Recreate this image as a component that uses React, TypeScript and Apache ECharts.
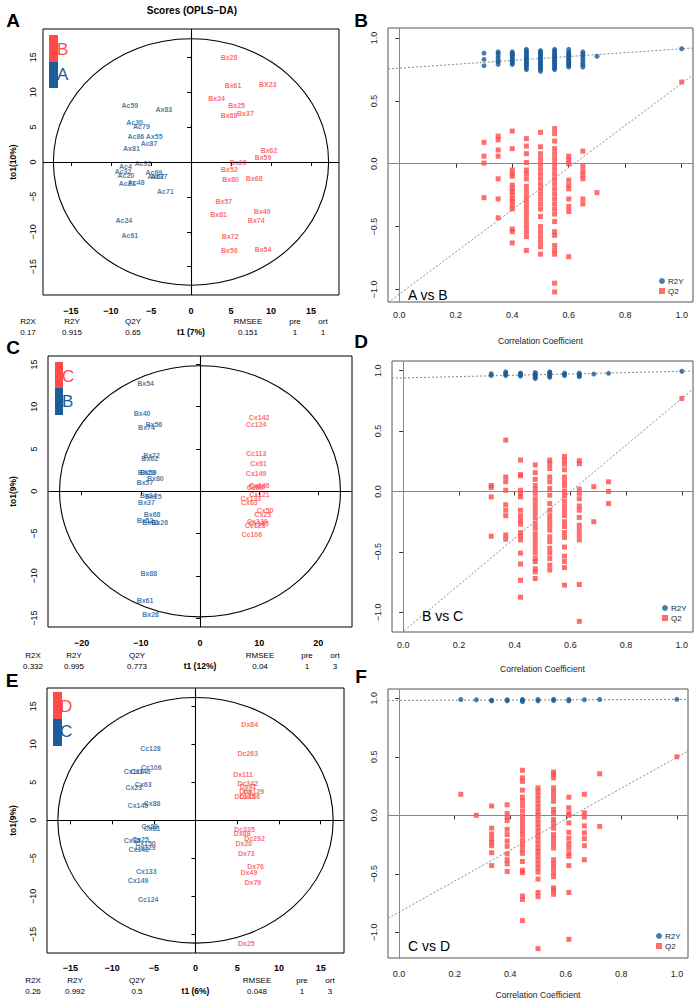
import React, { useEffect, useRef } from "react";
import * as echarts from "echarts";

const FONT = "'Liberation Sans', Arial, Helvetica, sans-serif";
const RED = "#FF4A4A";
const BLUE = "#1C5C99";
const MINUS = "\u2212";

// ---------------- tick labels ----------------
const ticks15 = [-15, -10, -5, 0, 5, 10, 15];
const ticks20 = [-20, -10, 0, 10, 20];
const corrTicksX = [0, 0.2, 0.4, 0.6, 0.8, 1.0];
const corrTicksY = [-1, -0.5, 0, 0.5, 1];

// ---------------- model statistics ----------------
const statNames = ["R2X", "R2Y", "Q2Y", "RMSEE", "pre", "ort"];
const statsA = ["0.17", "0.915", "0.65", "0.151", "1", "1"];
const statsC = ["0.332", "0.995", "0.773", "0.04", "1", "3"];
const statsE = ["0.26", "0.992", "0.5", "0.048", "1", "3"];

// ---------------- panel A scores: [sample, t1, to1] ----------------
const A_groupB: [string, number, number][] = [
  ["Bx28", 4.75, 14.9], ["Bx61", 5.25, 10.9], ["BX23", 9.6, 11.05], ["Bx24", 3.2, 9.05],
  ["Bx25", 5.7, 8.1], ["Bx37", 6.8, 7.0], ["Bx88", 4.75, 6.65], ["Bx62", 9.75, 1.7],
  ["Bx59", 9.0, 0.67], ["Bx26", 5.9, 0.0], ["Bx52", 4.8, -1.1], ["Bx80", 4.95, -2.45],
  ["Bx68", 7.9, -2.35], ["Bx57", 4.1, -5.7], ["Bx40", 8.9, -7.1], ["Bx81", 3.45, -7.55],
  ["Bx74", 8.15, -8.4], ["Bx72", 4.9, -10.7], ["Bx56", 4.8, -12.7], ["Bx54", 9.0, -12.6],
];
const A_groupA: [string, number, number][] = [
  ["Ac59", -7.65, 8.1], ["Ax83", -3.4, 7.5], ["Ac30", -7.05, 5.6], ["Ac79", -6.2, 5.1],
  ["Ac86", -6.9, 3.7], ["Ax55", -4.6, 3.6], ["Ac87", -5.25, 2.6], ["Ax81", -7.45, 1.9],
  ["Ac92", -6.0, -0.15], ["Ac4", -8.2, -0.7], ["Ac32", -8.5, -1.35], ["Ac20", -8.15, -1.95],
  ["Ac69", -4.65, -1.45], ["Ax67", -4.4, -2.05], ["Ac37", -4.0, -2.05], ["Ac48", -6.85, -2.9],
  ["Ac31", -8.0, -3.1], ["Ac71", -3.2, -4.25], ["Ac24", -8.4, -8.45], ["Ac61", -7.65, -10.5],
];

// ---------------- panel C scores ----------------
const C_groupB: [string, number, number][] = [
  ["Bx54", -9.2, 12.75], ["Bx40", -9.8, 9.2], ["Bx56", -7.8, 7.9], ["Bx74", -9.05, 7.6],
  ["Bx72", -8.2, 4.25], ["Bx62", -8.5, 3.85], ["Bx59", -8.75, 2.25], ["BX23", -9.05, 2.2],
  ["Bx80", -7.55, 1.5], ["Bx57", -9.3, 1.0], ["Bx24", -8.75, -0.47], ["Bx25", -7.9, -0.67],
  ["Bx37", -9.05, -1.35], ["Bx68", -8.1, -2.7], ["Bx52", -9.3, -3.5], ["Bx81", -8.35, -3.75],
  ["Bx26", -6.8, -3.75], ["Bx88", -8.65, -9.75], ["Bx61", -9.3, -12.9], ["Bx28", -8.35, -14.55],
];
const C_groupC: [string, number, number][] = [
  ["Cx142", 10.0, 8.7], ["Cc124", 9.5, 7.95], ["Cc113", 9.5, 4.45], ["Cx61", 9.9, 3.3],
  ["Cx149", 9.5, 2.1], ["Cx146", 10.05, 0.63], ["Cx88", 9.6, 0.55], ["Cc60", 9.3, 0.4],
  ["Cx121", 10.05, -0.4], ["Cx133", 8.6, -0.87], ["Cx63", 8.35, -1.38], ["Cx50", 11.0, -2.33],
  ["Cx25", 10.6, -2.73], ["Cx130", 9.7, -3.6], ["Cx145", 9.9, -3.85], ["Cc128", 9.3, -4.1],
  ["Cc106", 8.75, -5.1],
];

// ---------------- panel E scores ----------------
const E_groupD: [string, number, number][] = [
  ["Dx84", 6.5, 12.55], ["Dc263", 6.27, 8.73], ["Dx111", 5.7, 5.96], ["Dc342", 6.26, 4.87],
  ["Dx41", 6.3, 4.4], ["Dc8", 6.0, 3.76], ["Dx129", 7.0, 3.76], ["Dc185", 5.9, 3.1],
  ["Dx186", 6.5, 3.1], ["Dc335", 5.87, -1.18], ["Dx88", 5.6, -1.8], ["Dc292", 7.07, -2.4],
  ["Dx20", 5.8, -3.03], ["Dx73", 6.1, -4.35], ["Dx76", 7.2, -6.1], ["Dx49", 6.4, -6.85],
  ["Dx79", 6.87, -8.15], ["Dx25", 6.1, -16.2],
];
const E_groupC: [string, number, number][] = [
  ["Cc128", -5.4, 9.43], ["Cc106", -5.3, 6.93], ["Cx146", -6.6, 6.4], ["Cx116", -7.4, 6.4],
  ["Cx63", -6.27, 4.74], ["Cx23", -7.4, 4.34], ["Cx145", -6.9, 2.0], ["Cx88", -5.2, 2.24],
  ["Cx89", -5.47, -0.84], ["Cx81", -5.2, -1.05], ["Cx25", -6.6, -2.46], ["Cx35", -7.6, -2.68],
  ["Cx150", -6.0, -3.03], ["Cx129", -6.0, -3.55], ["Cx142", -6.8, -3.8], ["Cx133", -5.9, -6.67],
  ["Cx149", -6.87, -7.85], ["Cc124", -5.67, -10.35],
];

// Hotelling ellipse radii [t1, to1]
const A_ellipse = [17.2, 17.65];
const C_ellipse = [23.75, 14.85];
const E_ellipse = [16.5, 16.15];

// ---------------- permutation tests: [correlation, values] ----------------
const B_R2Y: [number, number[]][] = [
  [0.3, [0.78, 0.83, 0.88]],
  [0.35, [0.79, 0.81, 0.82, 0.84, 0.86, 0.88, 0.89]],
  [0.4, [0.79, 0.8, 0.81, 0.82, 0.83, 0.84, 0.855, 0.865, 0.87, 0.88, 0.89]],
  [0.45, [0.75, 0.76, 0.775, 0.78, 0.79, 0.8, 0.81, 0.82, 0.83, 0.84, 0.85, 0.86, 0.87, 0.88, 0.89, 0.9, 0.91]],
  [0.5, [0.735, 0.75, 0.76, 0.77, 0.78, 0.79, 0.8, 0.81, 0.82, 0.83, 0.84, 0.85, 0.86, 0.87, 0.88, 0.89, 0.9]],
  [0.55, [0.75, 0.76, 0.77, 0.78, 0.79, 0.8, 0.81, 0.82, 0.83, 0.84, 0.85, 0.86, 0.87, 0.88, 0.89, 0.9, 0.91]],
  [0.6, [0.77, 0.78, 0.79, 0.8, 0.81, 0.82, 0.83, 0.84, 0.85, 0.86, 0.87, 0.88, 0.89, 0.91]],
  [0.65, [0.77, 0.785, 0.8, 0.82, 0.84, 0.86, 0.875, 0.89]],
  [0.7, [0.855]],
  [1.0, [0.915]],
];
const B_Q2: [number, number[]][] = [
  [0.3, [0.17, 0.06, 0.005, -0.27]],
  [0.35, [0.22, 0.19, 0.11, 0.06, -0.12, -0.28, -0.43]],
  [0.4, [0.26, 0.12, -0.05, -0.08, -0.1, -0.17, -0.2, -0.22, -0.25, -0.28, -0.3, -0.33, -0.36, -0.52, -0.54, -0.63]],
  [0.45, [0.2, 0.14, 0.08, 0.01, -0.05, -0.08, -0.12, -0.18, -0.22, -0.26, -0.3, -0.34, -0.38, -0.42, -0.46, -0.5, -0.54, -0.58, -0.69]],
  [0.5, [0.25, 0.135, 0.08, 0.04, 0.0, -0.04, -0.08, -0.12, -0.16, -0.2, -0.24, -0.28, -0.32, -0.36, -0.42, -0.5, -0.54, -0.58, -0.62, -0.66, -0.72]],
  [0.55, [0.28, 0.24, 0.18, 0.12, 0.08, 0.04, 0.0, -0.04, -0.08, -0.12, -0.16, -0.2, -0.24, -0.28, -0.32, -0.36, -0.4, -0.46, -0.54, -0.57, -0.65, -0.69, -0.72, -0.95, -1.02]],
  [0.6, [0.06, 0.03, 0.0, -0.13, -0.17, -0.2, -0.28, -0.34, -0.38, -0.74]],
  [0.65, [0.1, -0.02, -0.06, -0.09, -0.12, -0.28, -0.32]],
  [0.7, [-0.23]],
  [1.0, [0.65]],
];
const D_R2Y: [number, number[]][] = [
  [0.316, [0.96, 0.975]],
  [0.368, [0.96, 0.97, 0.98, 0.99]],
  [0.421, [0.955, 0.965, 0.975, 0.98]],
  [0.474, [0.935, 0.945, 0.955, 0.965, 0.975, 0.985]],
  [0.526, [0.945, 0.955, 0.965, 0.975, 0.985, 0.99]],
  [0.579, [0.96, 0.97, 0.98]],
  [0.632, [0.95, 0.96, 0.97, 0.98]],
  [0.684, [0.972]],
  [0.737, [0.978]],
  [1.0, [0.995]],
];
const D_Q2: [number, number[]][] = [
  [0.316, [0.05, 0.033, -0.045, -0.37]],
  [0.368, [0.425, 0.12, 0.08, 0.01, -0.11, -0.155, -0.2, -0.36, -0.395]],
  [0.421, [0.26, 0.14, 0.13, 0.01, -0.02, -0.045, -0.155, -0.2, -0.24, -0.27, -0.34, -0.37, -0.4, -0.51, -0.6, -0.735, -0.875]],
  [0.474, [0.22, 0.155, 0.1, 0.05, 0.015, -0.015, -0.06, -0.1, -0.14, -0.18, -0.22, -0.265, -0.305, -0.35, -0.39, -0.43, -0.47, -0.51, -0.555, -0.58, -0.64, -0.665, -0.72]],
  [0.526, [0.26, 0.23, 0.19, 0.12, 0.08, 0.025, -0.03, -0.1, -0.155, -0.2, -0.24, -0.28, -0.32, -0.375, -0.415, -0.47, -0.51, -0.555, -0.61, -0.65]],
  [0.579, [0.29, 0.26, 0.225, 0.18, 0.12, 0.08, 0.045, 0.0, -0.035, -0.08, -0.12, -0.16, -0.2, -0.25, -0.29, -0.34, -0.38, -0.46, -0.535, -0.58, -0.63, -0.775]],
  [0.632, [0.255, 0.23, 0.02, -0.015, -0.06, -0.12, -0.155, -0.215, -0.28, -0.32, -0.36, -0.4, -0.77, -1.075]],
  [0.684, [0.04, -0.25]],
  [0.737, [0.08, 0.0, -0.1]],
  [1.0, [0.77]],
];
const F_R2Y: [number, number[]][] = [
  [0.222, [0.99]],
  [0.278, [0.988]],
  [0.333, [0.978, 0.985]],
  [0.389, [0.978, 0.988]],
  [0.444, [0.972, 0.982, 0.99]],
  [0.5, [0.978, 0.99]],
  [0.556, [0.982, 0.992]],
  [0.611, [0.978, 0.99]],
  [0.667, [0.988]],
  [0.722, [0.99]],
  [1.0, [0.992]],
];
const F_Q2: [number, number[]][] = [
  [0.222, [0.18]],
  [0.278, [0.0]],
  [0.333, [0.08, -0.11, -0.16, -0.2, -0.23, -0.26, -0.32, -0.43]],
  [0.389, [0.09, 0.015, -0.015, -0.045, -0.12, -0.165, -0.22, -0.265, -0.33, -0.38, -0.415, -0.48]],
  [0.444, [0.385, 0.32, 0.29, 0.215, 0.155, 0.12, 0.08, 0.035, -0.01, -0.05, -0.09, -0.13, -0.165, -0.21, -0.25, -0.29, -0.325, -0.395, -0.47, -0.49, -0.69, -0.72, -0.9]],
  [0.5, [0.235, 0.205, 0.17, 0.135, 0.1, 0.065, 0.03, 0.0, -0.035, -0.07, -0.105, -0.14, -0.175, -0.21, -0.245, -0.28, -0.31, -0.345, -0.38, -0.415, -0.45, -0.485, -0.545, -0.66, -0.695, -1.14]],
  [0.556, [0.37, 0.35, 0.32, 0.235, 0.2, 0.16, 0.12, 0.05, 0.015, -0.035, -0.07, -0.11, -0.165, -0.2, -0.24, -0.28, -0.38, -0.415, -0.45, -0.49, -0.525, -0.62, -0.64, -0.675]],
  [0.611, [0.155, 0.065, 0.02, 0.0, -0.065, -0.145, -0.195, -0.24, -0.28, -0.325, -0.35, -0.43, -0.66, -1.06]],
  [0.667, [0.18, 0.02, -0.015, -0.09, -0.15, -0.2, -0.26, -0.38]],
  [0.722, [0.355, -0.095]],
  [1.0, [0.5]],
];

// regression lines: [[x, y], [x, y]]
const B_R2Yline = [[-0.04, 0.754], [1.04, 0.921]];
const B_Q2line = [[-0.04, -1.105], [1.04, 0.707]];
const D_R2Yline = [[-0.04, 0.938], [1.04, 0.997]];
const D_Q2line = [[-0.04, -1.237], [1.04, 0.847]];
const F_R2Yline = [[-0.04, 0.982], [1.04, 0.991]];
const F_Q2line = [[-0.04, -0.88], [1.04, 0.549]];

// ---------------- helpers ----------------
const fmtInt = (v: number) => (v < 0 ? MINUS + Math.abs(v) : String(v));
const fmt1 = (v: number) => {
  const s = Math.abs(v).toFixed(1);
  return v < -1e-9 ? MINUS + s : s;
};
const flat = (arr: [number, number[]][]) => {
  const out: number[][] = [];
  arr.forEach(([x, ys]) => ys.forEach((y) => out.push([x, y])));
  return out;
};

function txt(text: string, x: number, y: number, o: any = {}) {
  return {
    type: "text",
    x,
    y,
    silent: true,
    z: o.z ?? 10,
    style: {
      text,
      fill: o.color ?? "#000",
      fontSize: o.size ?? 8,
      fontWeight: o.weight ?? "normal",
      fontFamily: FONT,
      align: o.align ?? "center",
      textAlign: o.align ?? "center",
      verticalAlign: "middle",
      textVerticalAlign: "middle",
    },
  };
}
function rect(x: number, y: number, w: number, h: number, color: string) {
  return { type: "rect", silent: true, z: 11, shape: { x, y, width: w, height: h }, style: { fill: color } };
}

function scoreX(gi: number, range: number[], ticks: number[], name: string, margin: number, nameGap: number) {
  return {
    type: "value", gridIndex: gi, min: range[0], max: range[1],
    axisLine: { show: false }, splitLine: { show: false },
    axisTick: { show: true, customValues: ticks, length: 4, lineStyle: { color: "#000" } },
    axisLabel: { customValues: ticks, formatter: fmtInt, margin, color: "#000", fontSize: 9, fontWeight: "bold", fontFamily: FONT },
    name, nameLocation: "middle", nameGap,
    nameTextStyle: { color: "#000", fontSize: 8.5, fontWeight: "bold", fontFamily: FONT },
  };
}
function scoreY(gi: number, range: number[], ticks: number[], name: string, margin: number, nameGap: number) {
  return {
    type: "value", gridIndex: gi, min: range[0], max: range[1],
    axisLine: { show: false }, splitLine: { show: false },
    axisTick: { show: true, customValues: ticks, length: 4, lineStyle: { color: "#000" } },
    axisLabel: { customValues: ticks, formatter: fmtInt, margin, rotate: 90, color: "#000", fontSize: 9, fontFamily: FONT },
    name, nameLocation: "middle", nameGap, nameRotate: 90,
    nameTextStyle: { color: "#000", fontSize: 8.5, fontWeight: "bold", fontFamily: FONT },
  };
}
function permX(gi: number, margin: number, nameGap: number) {
  return {
    type: "value", gridIndex: gi, min: -0.04, max: 1.04,
    axisLine: { show: false }, splitLine: { show: false },
    axisTick: { show: true, customValues: corrTicksX, length: 4, lineStyle: { color: "#333" } },
    axisLabel: { customValues: corrTicksX, formatter: fmt1, margin, color: "#222", fontSize: 9, fontFamily: FONT },
    name: "Correlation Coefficient", nameLocation: "middle", nameGap,
    nameTextStyle: { color: "#222", fontSize: 8.6, fontFamily: FONT },
  };
}
function permY(gi: number, range: number[], margin: number) {
  return {
    type: "value", gridIndex: gi, min: range[0], max: range[1],
    axisLine: { show: false }, splitLine: { show: false },
    axisTick: { show: true, customValues: corrTicksY, length: 4, lineStyle: { color: "#333" } },
    axisLabel: { customValues: corrTicksY, formatter: fmt1, margin, rotate: 90, color: "#222", fontSize: 9, fontFamily: FONT },
  };
}

function scoreSeries(gi: number, ellipse: number[], groups: { data: [string, number, number][]; color: string }[]) {
  const out: any[] = [
    {
      type: "custom", xAxisIndex: gi, yAxisIndex: gi, data: [[0, 0]], silent: true, z: 1,
      renderItem: (_p: any, api: any) => {
        const c = api.coord([0, 0]);
        const s = api.size([ellipse[0], ellipse[1]], [0, 0]);
        return {
          type: "ellipse",
          shape: { cx: c[0], cy: c[1], rx: s[0], ry: s[1] },
          style: { fill: "none", stroke: "#000", lineWidth: 1.1 },
        };
      },
    },
  ];
  groups.forEach((g, k) => {
    out.push({
      type: "scatter", xAxisIndex: gi, yAxisIndex: gi, silent: true, z: 3,
      symbol: "circle", symbolSize: 0, itemStyle: { color: "rgba(0,0,0,0)" },
      data: g.data.map(([n, x, y]) => ({ name: n, value: [x, y] })),
      label: { show: true, position: "inside", formatter: "{b}", color: g.color, fontSize: 7, fontWeight: "bold", fontFamily: FONT },
      markLine: k === 0 ? {
        silent: true, symbol: ["none", "none"], label: { show: false },
        lineStyle: { color: "#000", type: "solid", width: 1.1 },
        data: [{ xAxis: 0 }, { yAxis: 0 }],
      } : undefined,
    });
  });
  return out;
}

function permSeries(gi: number, r2y: [number, number[]][], q2: [number, number[]][], r2yLine: number[][], q2Line: number[][]) {
  const dotted = { color: "#8a8a8a", type: [2, 2], width: 1 };
  return [
    { type: "line", xAxisIndex: gi, yAxisIndex: gi, data: r2yLine, symbol: "none", silent: true, z: 2, lineStyle: dotted, clip: true },
    { type: "line", xAxisIndex: gi, yAxisIndex: gi, data: q2Line, symbol: "none", silent: true, z: 2, lineStyle: dotted, clip: true },
    {
      name: "R2Y", type: "scatter", xAxisIndex: gi, yAxisIndex: gi, data: flat(r2y), symbol: "circle", symbolSize: 5,
      itemStyle: { color: BLUE }, z: 3, silent: true,
      markLine: {
        silent: true, symbol: ["none", "none"], label: { show: false },
        lineStyle: { color: "#888", type: "solid", width: 1 },
        data: [{ xAxis: 0 }, { yAxis: 0 }],
      },
    },
    { name: "Q2", type: "scatter", xAxisIndex: gi, yAxisIndex: gi, data: flat(q2), symbol: "rect", symbolSize: 5, itemStyle: { color: RED }, z: 3, silent: true },
  ];
}

function statsRow(values: string[], xs: number[], yLab: number, yVal: number) {
  const out: any[] = [];
  statNames.forEach((n, i) => {
    out.push(txt(n, xs[i], yLab, { size: 8 }));
    out.push(txt(values[i], xs[i], yVal, { size: 8 }));
  });
  return out;
}

function legendCfg(left: number, top: number) {
  return {
    data: ["R2Y", "Q2"], left, top, orient: "vertical", padding: 0, itemGap: 2,
    itemWidth: 6, itemHeight: 6, selectedMode: false,
    textStyle: { fontSize: 8, color: "#222", fontFamily: FONT, padding: [0, 0, 0, -2] },
  };
}

function buildOption() {
  const gridBoxes = [
    { left: 43, top: 29, width: 296, height: 266 },
    { left: 388, top: 28, width: 305, height: 274 },
    { left: 48, top: 356, width: 304, height: 271 },
    { left: 392, top: 361, width: 301, height: 271 },
    { left: 47, top: 688, width: 297, height: 265 },
    { left: 388, top: 689, width: 300, height: 269 },
  ];
  const grid = gridBoxes.map((g, i) => ({
    ...g, show: true, borderColor: i % 2 === 0 ? "#000" : "#555", borderWidth: 1,
    backgroundColor: "transparent", containLabel: false, outerBoundsMode: "none",
  }));

  const xAxis = [
    scoreX(0, [-18.5, 18.5], ticks15, "t1 (7%)", 11, 32),
    permX(1, 8, 34),
    scoreX(2, [-25.7, 25.7], ticks20, "t1 (12%)", 11, 34),
    permX(3, 8, 32),
    scoreX(4, [-17.8, 17.8], ticks15, "t1 (6%)", 10, 33),
    permX(5, 11, 32),
  ];
  const yAxis = [
    scoreY(0, [-19.05, 19.05], ticks15, "to1(10%)", 6, 26),
    permY(1, [-1.1, 1.08], 10),
    scoreY(2, [-16.05, 16.0], ticks15, "to1(9%)", 10, 31),
    permY(3, [-1.163, 1.08], 10),
    scoreY(4, [-17.45, 17.4], ticks15, "to1(9%)", 10, 30),
    permY(5, [-1.22, 1.08], 10),
  ];

  const series = [
    ...scoreSeries(0, A_ellipse, [{ data: A_groupB, color: RED }, { data: A_groupA, color: BLUE }]),
    ...permSeries(1, B_R2Y, B_Q2, B_R2Yline, B_Q2line),
    ...scoreSeries(2, C_ellipse, [{ data: C_groupC, color: RED }, { data: C_groupB, color: BLUE }]),
    ...permSeries(3, D_R2Y, D_Q2, D_R2Yline, D_Q2line),
    ...scoreSeries(4, E_ellipse, [{ data: E_groupD, color: RED }, { data: E_groupC, color: BLUE }]),
    ...permSeries(5, F_R2Y, F_Q2, F_R2Yline, F_Q2line),
  ];

  const graphic: any[] = [
    txt("Scores (OPLS" + MINUS + "DA)", 192, 10, { size: 10, weight: "bold" }),
    txt("A", 13, 20, { size: 19, weight: "bold" }),
    txt("B", 361, 20, { size: 19, weight: "bold" }),
    txt("C", 13, 347, { size: 19, weight: "bold" }),
    txt("D", 361, 341, { size: 19, weight: "bold" }),
    txt("E", 12, 680, { size: 19, weight: "bold" }),
    txt("F", 361, 676, { size: 19, weight: "bold" }),
    // score-plot class keys
    txt("B", 57, 49, { size: 17, color: RED, align: "left" }),
    txt("A", 57, 74, { size: 17, color: BLUE, align: "left" }),
    rect(49, 35, 9, 27, RED),
    rect(49, 62, 9, 26, BLUE),
    txt("C", 62, 376, { size: 17, color: RED, align: "left" }),
    txt("B", 62, 401, { size: 17, color: BLUE, align: "left" }),
    rect(55, 362, 8, 26, RED),
    rect(55, 388, 8, 27, BLUE),
    txt("D", 60, 706, { size: 17, color: RED, align: "left" }),
    txt("C", 60, 731, { size: 17, color: BLUE, align: "left" }),
    rect(53, 692, 9, 27, RED),
    rect(53, 719, 9, 27, BLUE),
    // comparison captions
    txt("A vs B", 408, 295, { size: 14, align: "left" }),
    txt("B vs C", 422, 616, { size: 14, align: "left" }),
    txt("C vs D", 408, 946, { size: 14, align: "left" }),
    ...statsRow(statsA, [28, 72, 133, 248, 295, 323], 321, 332),
    ...statsRow(statsC, [33, 74, 137, 260, 307, 335], 655, 666),
    ...statsRow(statsE, [33, 75, 137, 257, 302, 330], 980, 991),
  ];

  return {
    animation: false,
    backgroundColor: "#fff",
    textStyle: { fontFamily: FONT },
    grid,
    xAxis,
    yAxis,
    legend: [legendCfg(659, 277), legendCfg(662, 604), legendCfg(656, 932)],
    series,
    graphic,
  };
}

export default function App() {
  const ref = useRef<HTMLDivElement>(null);
  useEffect(() => {
    const chart = echarts.init(ref.current!, null, { renderer: "svg" });
    chart.setOption(buildOption() as any);
    return () => chart.dispose();
  }, []);
  return (
    <div
      ref={ref}
      style={{ position: "absolute", left: 0, top: 0, width: 696, height: 1000, background: "#fff" }}
    />
  );
}
